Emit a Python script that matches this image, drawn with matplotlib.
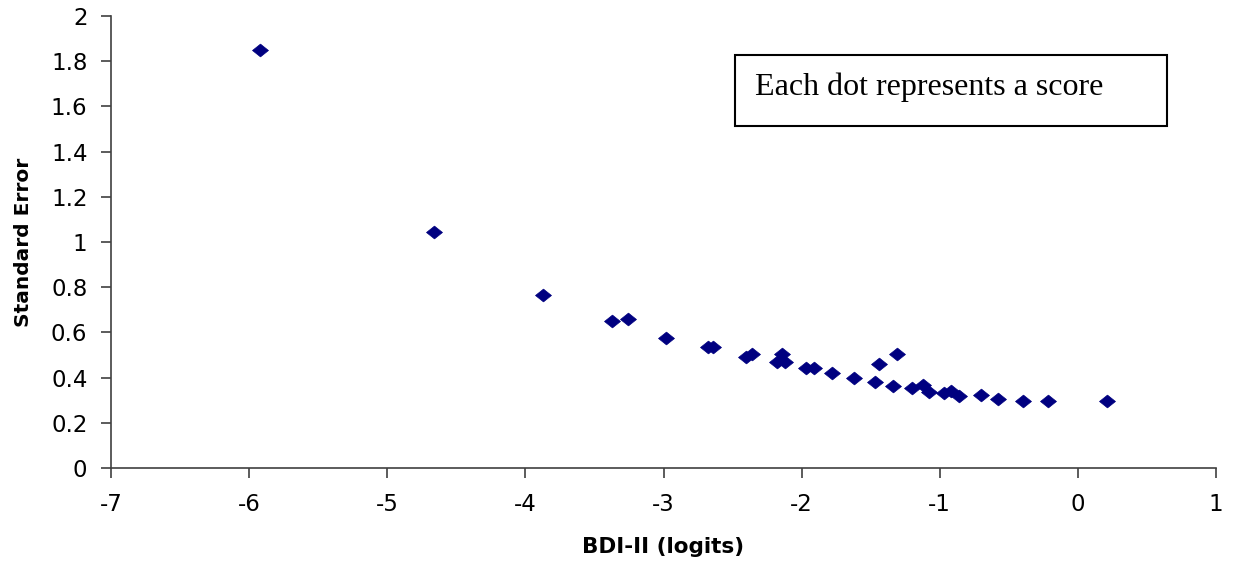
import matplotlib
matplotlib.use("Agg")
import matplotlib.pyplot as plt
from matplotlib.path import Path
from matplotlib.patches import Rectangle

# BDI-II score measures (logits) and their standard errors
logits = [-5.92, -4.66, -3.87, -3.37, -3.26, -2.98, -2.68, -2.64, -2.40, -2.36,
          -2.18, -2.14, -2.12, -1.97, -1.91, -1.78, -1.62, -1.47, -1.44, -1.335,
          -1.31, -1.20, -1.12, -1.075, -0.97, -0.92, -0.86, -0.70, -0.58, -0.40,
          -0.215, 0.21]
std_err = [1.85, 1.044, 0.765, 0.65, 0.659, 0.575, 0.535, 0.535, 0.49, 0.504,
           0.47, 0.504, 0.47, 0.443, 0.443, 0.42, 0.398, 0.38, 0.46, 0.363,
           0.504, 0.354, 0.367, 0.336, 0.332, 0.341, 0.32, 0.323, 0.305, 0.296,
           0.296, 0.296]

x_ticks = [-7, -6, -5, -4, -3, -2, -1, 0, 1]
y_ticks = [0, 0.2, 0.4, 0.6, 0.8, 1, 1.2, 1.4, 1.6, 1.8, 2]

plt.rcParams['font.family'] = ['DejaVu Sans']

# excel-style diamond, a bit wider than tall
diamond = Path([(-1, 0), (0, 0.8), (1, 0), (0, -0.8), (-1, 0)],
               [Path.MOVETO, Path.LINETO, Path.LINETO, Path.LINETO, Path.CLOSEPOLY])

fig = plt.figure(figsize=(12.34, 5.64), dpi=100)
ax = fig.add_axes([0.09, 0.1702, 0.8954, 0.8014])

ax.scatter(logits, std_err, marker=diamond, s=11.5 ** 2, color='#000080',
           edgecolors='#000080', linewidths=0.5, zorder=3)

ax.set_xlim(-7, 1)
ax.set_ylim(0, 2)
ax.set_xticks(x_ticks)
ax.set_yticks(y_ticks)
ax.set_xticklabels([str(t) for t in x_ticks])
ax.set_yticklabels([f"{t:g}" for t in y_ticks])

for side in ['top', 'right']:
    ax.spines[side].set_visible(False)
for side in ['left', 'bottom']:
    ax.spines[side].set_color('#404040')
    ax.spines[side].set_linewidth(1.2)
ax.tick_params(direction='out', length=7, width=1.2, color='#404040',
               labelsize=16.5)
ax.tick_params(axis='x', pad=11)
ax.tick_params(axis='y', pad=10)

ax.set_xlabel('BDI-II (logits)', fontsize=15.5, fontweight='bold', labelpad=15)
ax.set_ylabel('Standard Error', fontsize=14.5, fontweight='bold', labelpad=13)

ax.add_patch(Rectangle((0.5647, 0.7566), 0.391, 0.1571, transform=ax.transAxes,
                       fill=False, edgecolor='black', linewidth=1.5, clip_on=False))
ax.text(0.5828, 0.843, 'Each dot represents a score', transform=ax.transAxes,
        fontsize=23, family=['Liberation Serif', 'DejaVu Serif'], va='center', ha='left')

fig.savefig('out.png', dpi=100)
